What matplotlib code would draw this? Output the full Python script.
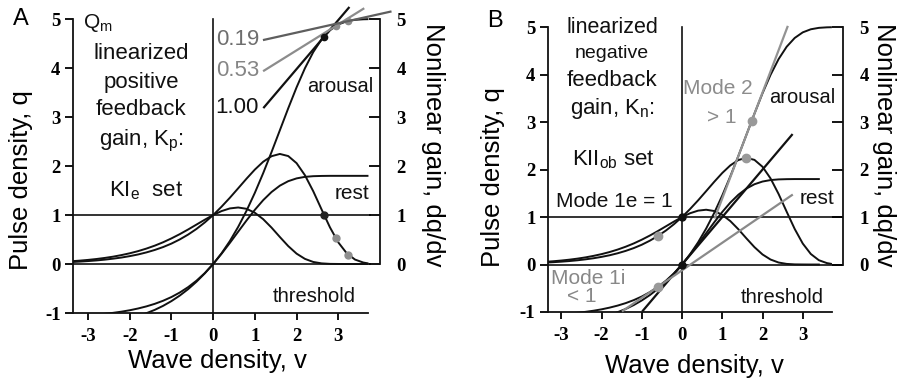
import matplotlib.pyplot as plt

plt.rcParams['font.family'] = ['Liberation Sans', 'DejaVu Sans']
plt.rcParams['mathtext.fontset'] = 'custom'
plt.rcParams['mathtext.rm'] = 'Liberation Sans'
plt.rcParams['mathtext.it'] = 'Liberation Sans:italic'
plt.rcParams['axes.unicode_minus'] = False

# wave density samples and the two asymmetric sigmoids (arousal Qm=5, rest Qm=1.8)
v = [-3.4, -3.2, -3.0, -2.8, -2.6, -2.4, -2.2, -2.0, -1.8, -1.6, -1.4, -1.2,
     -1.0, -0.8, -0.6, -0.4, -0.2, 0.0, 0.2, 0.4, 0.6, 0.8, 1.0, 1.2,
     1.4, 1.6, 1.8, 2.0, 2.2, 2.4, 2.6, 2.8, 3.0, 3.2, 3.4, 3.6, 3.7]
q_arousal = [-1.066, -1.057, -1.047, -1.033, -1.017, -0.997, -0.973, -0.944, -0.908,
             -0.865, -0.813, -0.750, -0.674, -0.582, -0.472, -0.341, -0.185, 0.000,
             0.217, 0.468, 0.758, 1.087, 1.454, 1.856, 2.286, 2.732, 3.179, 3.607,
             3.996, 4.327, 4.587, 4.772, 4.890, 4.955, 4.985, 4.996, 4.998]
g_arousal = [0.040, 0.049, 0.060, 0.073, 0.089, 0.109, 0.132, 0.161, 0.195, 0.237,
             0.287, 0.346, 0.417, 0.502, 0.601, 0.716, 0.849, 1.000, 1.169, 1.352,
             1.546, 1.742, 1.928, 2.088, 2.201, 2.247, 2.204, 2.059, 1.813, 1.485,
             1.113, 0.749, 0.442, 0.222, 0.091, 0.030, 0.015]
q_rest = [-1.280, -1.267, -1.252, -1.233, -1.210, -1.183, -1.150, -1.110, -1.062,
          -1.004, -0.936, -0.854, -0.757, -0.644, -0.513, -0.362, -0.191, 0.000,
          0.208, 0.430, 0.660, 0.889, 1.107, 1.304, 1.470, 1.600, 1.691, 1.748,
          1.779, 1.793, 1.798, 1.800, 1.800, 1.800, 1.800, 1.800, 1.800]
g_rest = [0.057, 0.069, 0.084, 0.102, 0.124, 0.150, 0.182, 0.219, 0.263, 0.315,
          0.375, 0.444, 0.523, 0.610, 0.705, 0.805, 0.905, 1.000, 1.080, 1.135,
          1.154, 1.127, 1.046, 0.915, 0.743, 0.551, 0.366, 0.212, 0.105, 0.042,
          0.013, 0.003, 0.001, 0.000, 0.000, 0.000, 0.000]

# panel A: positive feedback gains and where their tangents touch the arousal curve
kp_gains = [1.00, 0.53, 0.19]
kp_touch_v = [2.66, 2.94, 3.24]
kp_touch_q = [4.64, 4.86, 4.96]
kp_start = [1.22, 1.22, 1.22]
kp_end = [3.25, 3.60, 4.25]
kp_colors = ['#111111', '#8c8c8c', '#5e5e5e']
kp_text_colors = ['#111111', '#858585', '#6e6e6e']

# panel B: linearized modes (gain, touch point, extent)
mode_gains = [1.00, 0.58, 2.23]
mode_touch_v = [0.0, -0.6, 1.73]
mode_touch_q = [0.0, -0.47, 3.02]
mode_start = [-0.97, -1.47, 0.82]
mode_end = [2.73, 2.73, 2.62]
mode_colors = ['#111111', '#8a8a8a', '#939393']

xticks = [-3, -2, -1, 0, 1, 2, 3]
yticks = [-1, 0, 1, 2, 3, 4, 5]
gain_ticks = [0, 1, 2, 3, 4, 5]

BLACK = '#111111'
GREY = '#8c8c8c'
LW = 1.4

fig = plt.figure(figsize=(9, 3.84), dpi=100)


def fx(px):
    return px / 900


def fy(py):
    return 1 - py / 384


def make_axes(left, top, right, bottom, xlim, ylim):
    ax = fig.add_axes([fx(left), fy(bottom), (right - left) / 900, (bottom - top) / 384])
    ax.set_xlim(xlim)
    ax.set_ylim(ylim)
    ax.patch.set_visible(False)
    for s in ['top', 'right']:
        ax.spines[s].set_visible(False)
    ax.spines['left'].set_bounds(-1, 5)
    ax.spines['bottom'].set_bounds(xlim[0], 3.72)
    for s in ['left', 'bottom']:
        ax.spines[s].set_linewidth(1.3)
        ax.spines[s].set_color(BLACK)
    ax.set_xticks(xticks)
    ax.set_xticklabels([str(t) for t in xticks])
    ax.set_yticks(yticks)
    ax.set_yticklabels([str(t) for t in yticks])
    ax.tick_params(axis='y', direction='out', length=6, width=1.3, pad=3)
    ax.tick_params(axis='x', direction='out', length=5, width=1.3, pad=6)

    tw = ax.twinx()
    tw.set_ylim(ylim)
    for s in ['top', 'left', 'bottom']:
        tw.spines[s].set_visible(False)
    tw.spines['right'].set_bounds(0, 5)
    tw.spines['right'].set_linewidth(1.3)
    tw.spines['right'].set_color(BLACK)
    tw.set_yticks(gain_ticks)
    tw.set_yticklabels([str(t) for t in gain_ticks])
    tw.tick_params(axis='y', direction='in', length=8, width=1.3, pad=12)

    for lab in ax.get_xticklabels() + ax.get_yticklabels() + tw.get_yticklabels():
        lab.set_fontfamily('Liberation Serif')
        lab.set_fontweight('bold')
        lab.set_fontsize(13.5)
    return ax


def base_curves(ax, right, rest_end):
    ax.plot([ax.get_xlim()[0], right], [1, 1], color=BLACK, lw=1.2)
    ax.plot([ax.get_xlim()[0], right], [0, 0], color=BLACK, lw=1.2)
    ax.plot([0, 0], [-1, 5], color=BLACK, lw=1.2)
    vr = [x for x in v if x <= rest_end]
    n = len(vr)
    ax.plot(v, q_arousal, color=BLACK, lw=LW, solid_joinstyle='round')
    ax.plot(v, g_arousal, color=BLACK, lw=LW, solid_joinstyle='round')
    ax.plot(vr, q_rest[:n], color=BLACK, lw=LW, solid_joinstyle='round')
    ax.plot(vr, g_rest[:n], color=BLACK, lw=LW, solid_joinstyle='round')


# ---- panel A: KIe set ----
axA = make_axes(73, -0.5, 380, 313, (-3.36, 4.0), (-1, 5.4))
base_curves(axA, 3.75, 3.72)

for k, tv, tq, a, b, c in zip(kp_gains, kp_touch_v, kp_touch_q, kp_start, kp_end, kp_colors):
    axA.plot([a, b], [tq + k * (a - tv), tq + k * (b - tv)], color=c, lw=1.6,
             clip_on=False, zorder=4)
axA.plot(kp_touch_v[0], kp_touch_q[0], 'o', color=BLACK, ms=4.5, zorder=5)
axA.plot(kp_touch_v[1:], kp_touch_q[1:], 'o', color=GREY, ms=4.5, zorder=3)
axA.plot(kp_touch_v[0], kp_gains[0], 'o', color='#222222', ms=5, zorder=5)
axA.plot(kp_touch_v[1:], kp_gains[1:], 'o', color='#8f8f8f', ms=5, zorder=5)

for k, a, tq, tv, tc in zip(kp_gains, kp_start, kp_touch_q, kp_touch_v, kp_text_colors):
    axA.text(a - 0.12, tq + k * (a - tv), f'{k:.2f}', ha='right', va='center',
             fontsize=16, color=tc)

axA.text(-3.12, 4.93, r'Q$_\mathrm{m}$', ha='left', va='center', fontsize=15, color=BLACK)
for txt, qy in [('linearized', 4.30), ('positive', 3.71), ('feedback', 3.16),
                (r'gain, K$_\mathrm{p}$:', 2.52)]:
    axA.text(-1.72, qy, txt, ha='center', va='center', fontsize=16, color=BLACK)
axA.text(-1.61, 1.50, r'KI$_\mathrm{e}$  set', ha='center', va='center', fontsize=16, color=BLACK)
axA.text(3.05, 3.63, 'arousal', ha='center', va='center', fontsize=14.5, color=BLACK)
axA.text(3.33, 1.43, 'rest', ha='center', va='center', fontsize=15, color=BLACK)
axA.text(2.42, -0.66, 'threshold', ha='center', va='center', fontsize=14.5, color=BLACK)

# ---- panel B: KIIob set ----
axB = make_axes(548, 3.4, 843, 312, (-3.33, 4.0), (-1, 5.5))
base_curves(axB, 4.0, 3.5)

for k, tv, tq, a, b, c in zip(mode_gains, mode_touch_v, mode_touch_q, mode_start, mode_end, mode_colors):
    axB.plot([a, b], [tq + k * (a - tv), tq + k * (b - tv)], color=c, lw=1.6,
             clip_on=False, zorder=4)
axB.plot([0, 0], [0, 1], 'o', color=BLACK, ms=5, zorder=5)
axB.plot(mode_touch_v[1:], mode_touch_q[1:], 'o', color='#999999', ms=6, zorder=5)
axB.plot([-0.6, 1.6], [0.60, 2.247], 'o', color='#999999', ms=6, zorder=5)

for txt, qy, fs in [('linearized', 5.0, 15.5), ('negative', 4.45, 14), ('feedback', 3.88, 16),
                    (r'gain, K$_\mathrm{n}$:', 3.28, 16)]:
    axB.text(-1.74, qy, txt, ha='center', va='center', fontsize=fs, color=BLACK)
axB.text(-1.70, 2.20, r'KII$_\mathrm{ob}$ set', ha='center', va='center', fontsize=16, color=BLACK)
axB.text(-1.69, 1.33, 'Mode 1e = 1', ha='center', va='center', fontsize=15, color=BLACK)
axB.text(-2.33, -0.30, 'Mode 1i', ha='center', va='center', fontsize=15, color='#888888')
axB.text(-2.48, -0.68, '< 1', ha='center', va='center', fontsize=15, color='#888888')
axB.text(0.89, 3.71, 'Mode 2', ha='center', va='center', fontsize=15, color='#8c8c8c')
axB.text(0.99, 3.09, '> 1', ha='center', va='center', fontsize=15, color='#8c8c8c')
axB.text(2.98, 3.52, 'arousal', ha='center', va='center', fontsize=14.5, color=BLACK)
axB.text(3.35, 1.40, 'rest', ha='center', va='center', fontsize=15, color=BLACK)
axB.text(2.48, -0.70, 'threshold', ha='center', va='center', fontsize=14.5, color=BLACK)

# panel letters and axis titles
fig.text(fx(21), fy(19), 'A', ha='center', va='center', fontsize=17)
fig.text(fx(495), fy(21), 'B', ha='center', va='center', fontsize=17)
for xc, yc in [(217, 361), (694, 366)]:
    fig.text(fx(xc), fy(yc), 'Wave density, v', ha='center', va='center', fontsize=18.5)
for xc, yc in [(21, 180), (493, 177)]:
    fig.text(fx(xc), fy(yc), 'Pulse density, q', ha='center', va='center',
             fontsize=18.5, rotation=90)
for xc, yc in [(433, 145), (884, 145)]:
    fig.text(fx(xc), fy(yc), 'Nonlinear gain, dq/dv', ha='center', va='center',
             fontsize=18.5, rotation=-90)

fig.savefig('out.png', dpi=100, facecolor='white')
